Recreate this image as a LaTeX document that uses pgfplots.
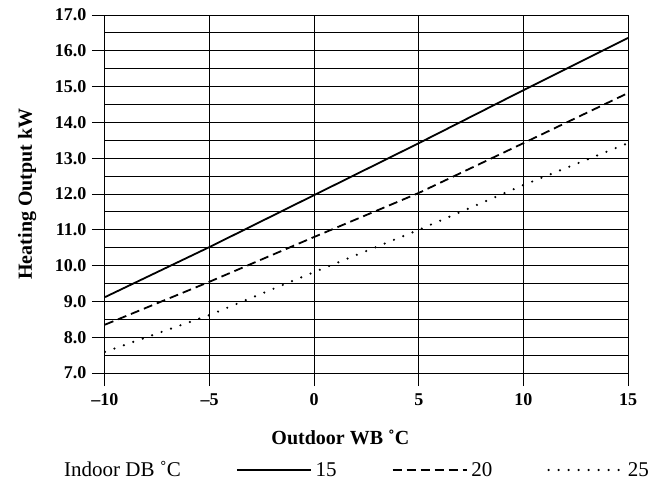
\documentclass[border=0pt]{standalone}
\usepackage{pgfplots}
\pgfplotsset{compat=1.18}
\usepackage{fontspec}
\setmainfont{Liberation Serif}

% heating output (kW) against outdoor wet bulb, one series per indoor dry bulb
\pgfplotstableread{
x     db15   db20   db25
-10   9.12   8.35   7.59
-5    10.52  9.55   8.62
0     11.97  10.80  9.82
5     13.42  12.03  11.00
10    14.90  13.42  12.25
15    16.36  14.82  13.42
}\heating

\begin{document}
\begin{tikzpicture}
\path[use as bounding box] (-105pt,-112pt) rectangle (549pt,373pt);
\begin{axis}[
  scale only axis,
  width=523pt, height=358pt,
  xmin=-10, xmax=15, ymin=7, ymax=17,
  xtick={-10,-5,0,5,10,15},
  xticklabels={–10,–5,0,5,10,15},
  ytick={7,8,...,17},
  yticklabels={7.0,8.0,9.0,10.0,11.0,12.0,13.0,14.0,15.0,16.0,17.0},
  minor ytick={7.5,8.5,...,16.5},
  grid=both,
  major grid style={black, line width=1pt},
  minor grid style={black, line width=1pt},
  axis line style={draw=none},
  tick pos=left,
  tick align=outside,
  major tick length=13pt,
  minor tick length=0pt,
  tick style={black, line width=1pt},
  ticklabel style={font=\fontsize{18}{20}\selectfont\bfseries},
  xticklabel style={yshift=-4pt},
  yticklabel style={xshift=-2pt},
  xlabel={Outdoor WB ˚C},
  ylabel={Heating Output kW},
  label style={font=\fontsize{20}{22}\selectfont\bfseries},
  xlabel style={at={(axis description cs:0.45,-0.179)}, anchor=center},
  ylabel style={at={(axis description cs:-0.149,0.5)}, anchor=center, rotate=0},
  legend columns=4,
  legend style={draw=none, fill=none, inner sep=0pt,
    at={(axis description cs:-0.086,-0.271)}, anchor=west,
    font=\fontsize{21}{23}\selectfont,
    /tikz/every odd column/.append style={column sep=2pt},
    /tikz/every even column/.append style={column sep=53pt}},
  legend image code/.code={\draw[#1] (0pt,0pt) -- (74pt,0pt);},
]
\addlegendimage{empty legend}
\addlegendentry{Indoor DB ˚C}
\addplot[black, line width=1.8pt] table[x=x, y=db15] {\heating};
\addlegendentry{15}
\addplot[black, line width=1.8pt, dash pattern=on 9pt off 5pt] table[x=x, y=db20] {\heating};
\addlegendentry{20}
\addplot[black, line width=2.4pt, line cap=round, dash pattern=on 0pt off 10pt] table[x=x, y=db25] {\heating};
\addlegendentry{25}
\end{axis}
\end{tikzpicture}
\end{document}
